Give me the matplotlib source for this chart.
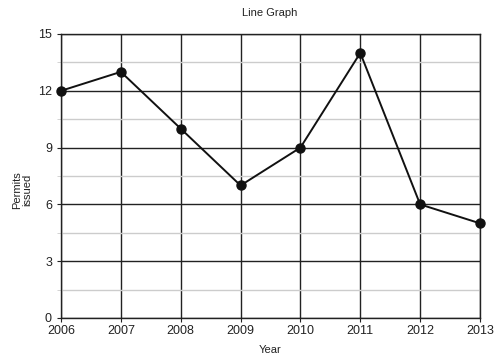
import matplotlib
matplotlib.use("Agg")
import matplotlib.pyplot as plt
from matplotlib.ticker import MultipleLocator

years = [2006, 2007, 2008, 2009, 2010, 2011, 2012, 2013]
permits = [12, 13, 10, 7, 9, 14, 6, 5]
yticks = [0, 3, 6, 9, 12, 15]

plt.rcParams['font.family'] = ['Liberation Sans', 'DejaVu Sans']
fig = plt.figure(figsize=(4.94, 3.6), dpi=100)
ax = fig.add_axes([61/494, 1-318/360, (480-61)/494, (318-34)/360])

ax.set_xlim(years[0], years[-1])
ax.set_ylim(0, 15)
ax.set_xticks(years)
ax.set_yticks(yticks)
ax.yaxis.set_minor_locator(MultipleLocator(1.5))

ax.grid(True, which='major', color='#222222', linewidth=1.0)
ax.grid(True, which='minor', axis='y', color='#cccccc', linewidth=1.0)
ax.set_axisbelow(True)
for s in ax.spines.values():
    s.set_color('#222222')
    s.set_linewidth(1.0)

ax.tick_params(axis='both', which='major', labelsize=9, length=3, color='#222222', labelcolor='#222222')
ax.tick_params(axis='y', which='minor', length=3, color='#cccccc')
ax.tick_params(axis='x', pad=2)

ax.plot(years, permits, color='#111111', linewidth=1.4, marker='o', markersize=6.5, clip_on=False, zorder=5)

fig.text(270/494, 1-13/360, 'Line Graph', ha='center', va='center', fontsize=8, color='#222222')
fig.text(270/494, 1-350/360, 'Year', ha='center', va='center', fontsize=8, color='#222222')
fig.text(22/494, 1-190/360, 'Permits\nissued', ha='center', va='center', rotation=90, fontsize=8, color='#222222', linespacing=1.0)

fig.savefig('out.png', dpi=100)
